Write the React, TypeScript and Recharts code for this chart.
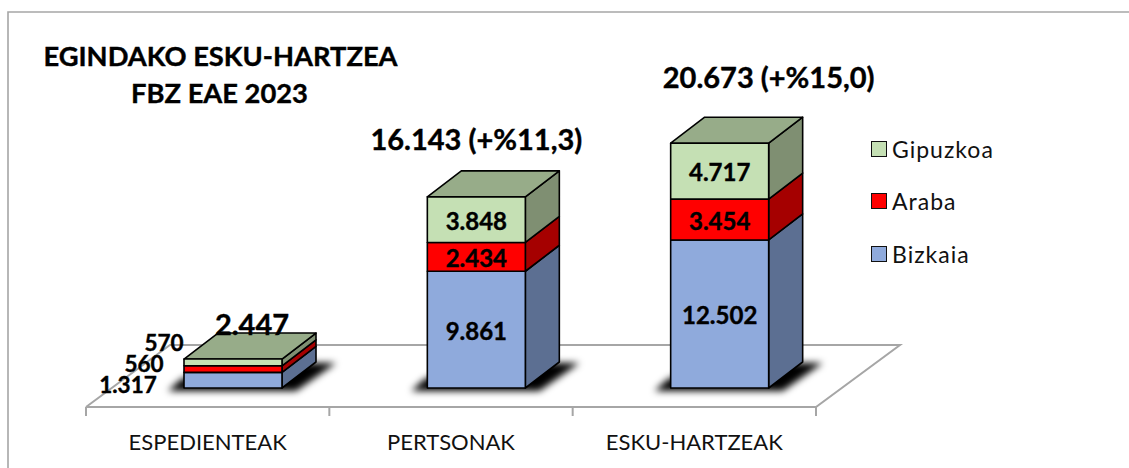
import { Bar, BarChart, LabelList, Legend, XAxis, YAxis } from "recharts";

const categories = ["ESPEDIENTEAK", "PERTSONAK", "ESKU-HARTZEAK"];
const bizkaia = [1317, 9861, 12502];
const araba = [560, 2434, 3454];
const gipuzkoa = [570, 3848, 4717];
const totals = [2447, 16143, 20673];
const growth = ["", " (+%11,3)", " (+%15,0)"];
const titleLines = ["EGINDAKO ESKU-HARTZEA", "FBZ EAE 2023"];
const legendOrder = ["Gipuzkoa", "Araba", "Bizkaia"];

const chartData = categories.map((name, i) => ({
  name,
  Bizkaia: bizkaia[i],
  Araba: araba[i],
  Gipuzkoa: gipuzkoa[i],
}));

const FONT = "Lato, 'Open Sans', sans-serif";
const DEPTH_X = 34;
const DEPTH_Y = 26;
const AXIS_SHIFT = 25;
const FLOOR_DROP = 19;

const sideColors: Record<string, string> = {
  Bizkaia: "#5c6f92",
  Araba: "#a50000",
  Gipuzkoa: "#7f8f72",
};

// labels of the short first bar were moved by hand outside of it
const outsideLabels: Record<string, { x: number; y: number }> = {
  Bizkaia: { x: -105, y: 3 },
  Araba: { x: -89, y: -7 },
  Gipuzkoa: { x: -69, y: -21 },
};
const totalOffsets = [
  { x: 19, y: -24 },
  { x: 0, y: -47 },
  { x: 49, y: -55 },
];

const fmt = (v: number) => String(v).replace(/\B(?=(\d{3})+$)/g, ".");

function Box3D(props: any) {
  const { x, y, width: w, height: h, fill, dataKey } = props;
  const b = y + h;
  const d = `${x + w},${y} ${x + w + DEPTH_X},${y - DEPTH_Y} ${x + w + DEPTH_X},${b - DEPTH_Y} ${x + w},${b}`;
  return (
    <g stroke="#000" strokeWidth={1.6} strokeLinejoin="round">
      {dataKey === "Bizkaia" && (
        <polygon
          points={`${x - 16},${b + 3} ${x + w + 14},${b + 3} ${x + w + DEPTH_X + 20},${b - DEPTH_Y + 1} ${x + DEPTH_X},${b - DEPTH_Y} ${x - 4},${b - 8}`}
          fill="#000"
          stroke="none"
          filter="url(#barShadow)"
        />
      )}
      <polygon points={d} fill={sideColors[dataKey]} />
      {dataKey === "Gipuzkoa" && (
        <polygon
          points={`${x},${y} ${x + DEPTH_X},${y - DEPTH_Y} ${x + w + DEPTH_X},${y - DEPTH_Y} ${x + w},${y}`}
          fill="#97ac89"
        />
      )}
      <rect x={x} y={y} width={w} height={h} fill={fill} />
    </g>
  );
}

function segmentLabel(series: string) {
  return (props: any) => {
    const { x, y, width, height, value, index } = props;
    const off = index === 0 ? outsideLabels[series] : { x: 0, y: 0 };
    return (
      <text
        x={x + width / 2 + off.x}
        y={y + height / 2 + off.y}
        dy={10}
        textAnchor="middle"
        fontFamily={FONT}
        fontWeight={700}
        fontSize={index === 0 ? 22.5 : 24}
        fill="#000"
        stroke="#000"
        strokeWidth={0.4}
      >
        {fmt(value)}
      </text>
    );
  };
}

function totalLabel(props: any) {
  const { x, y, width, index } = props;
  const off = totalOffsets[index];
  return (
    <text
      x={x + width / 2 + off.x}
      y={y + off.y}
      textAnchor="middle"
      fontFamily={FONT}
      fontWeight={700}
      fontSize={29}
      fill="#000"
      stroke="#000"
      strokeWidth={0.4}
    >
      {fmt(totals[index]) + growth[index]}
    </text>
  );
}

function CategoryTick(props: any) {
  const { x, payload } = props;
  return (
    <text x={x - AXIS_SHIFT} y={450} textAnchor="middle" fontFamily={FONT} fontSize={22} fill="#111">
      {payload.value}
    </text>
  );
}

function LegendBox(props: any) {
  const items = legendOrder.map((n) => (props.payload ?? []).find((p: any) => p.value === n)).filter(Boolean);
  return (
    <div>
      {items.map((it: any) => (
        <div key={it.value} style={{ display: "flex", alignItems: "center", height: 52.5 }}>
          <span
            style={{
              width: 16,
              height: 16,
              boxSizing: "border-box",
              marginRight: 5,
              background: it.color,
              border: "1.5px solid #111",
            }}
          />
          <span style={{ fontFamily: FONT, fontSize: 23, letterSpacing: 1, color: "#111" }}>{it.value}</span>
        </div>
      ))}
    </div>
  );
}

export default function App() {
  return (
    <div style={{ position: "absolute", left: 0, top: 0, width: 1129, height: 468, background: "#fff" }}>
      <BarChart
        width={1129}
        height={468}
        data={chartData}
        margin={{ top: 92, right: 288, bottom: 50, left: 111 }}
        barSize={98}
      >
        <defs>
          <filter id="barShadow" x="-30%" y="-60%" width="160%" height="220%">
            <feGaussianBlur stdDeviation="3.5" />
          </filter>
        </defs>
        <polyline points="8,468 8,12 1129,12" fill="none" stroke="#a6a6a6" strokeWidth={1.6} />
        <g fill="none" stroke="#a6a6a6" strokeWidth={2}>
          <polyline points={`${86},${388 + FLOOR_DROP} ${170},${345} ${900},${345} ${816},${388 + FLOOR_DROP} ${86},${388 + FLOOR_DROP}`} />
          {[0, 1, 2, 3].map((i) => (
            <line key={i} x1={86 + (i * 730) / 3} x2={86 + (i * 730) / 3} y1={407} y2={416} />
          ))}
        </g>
        {titleLines.map((t, i) => (
          <text
            key={t}
            x={i === 0 ? 220.5 : 219.5}
            y={i === 0 ? 66 : 103}
            textAnchor="middle"
            fontFamily={FONT}
            fontWeight={700}
            fontSize={27.3}
            fill="#000"
            stroke="#000"
            strokeWidth={0.4}
          >
            {t}
          </text>
        ))}
        <XAxis dataKey="name" axisLine={false} tickLine={false} tick={CategoryTick} height={30} interval={0} />
        <YAxis hide domain={[0, 25000]} />
        <Legend
          layout="vertical"
          align="center"
          verticalAlign="middle"
          content={LegendBox}
          wrapperStyle={{ position: "absolute", left: 871, top: 122.5, width: 150, height: 160 }}
        />
        <Bar dataKey="Bizkaia" stackId="a" fill="#8faadc" shape={Box3D} isAnimationActive={false}>
          <LabelList dataKey="Bizkaia" content={segmentLabel("Bizkaia")} />
        </Bar>
        <Bar dataKey="Araba" stackId="a" fill="#ff0000" shape={Box3D} isAnimationActive={false}>
          <LabelList dataKey="Araba" content={segmentLabel("Araba")} />
        </Bar>
        <Bar dataKey="Gipuzkoa" stackId="a" fill="#c5e0b4" shape={Box3D} isAnimationActive={false}>
          <LabelList dataKey="Gipuzkoa" content={segmentLabel("Gipuzkoa")} />
          <LabelList dataKey="Gipuzkoa" content={totalLabel} />
        </Bar>
      </BarChart>
    </div>
  );
}
